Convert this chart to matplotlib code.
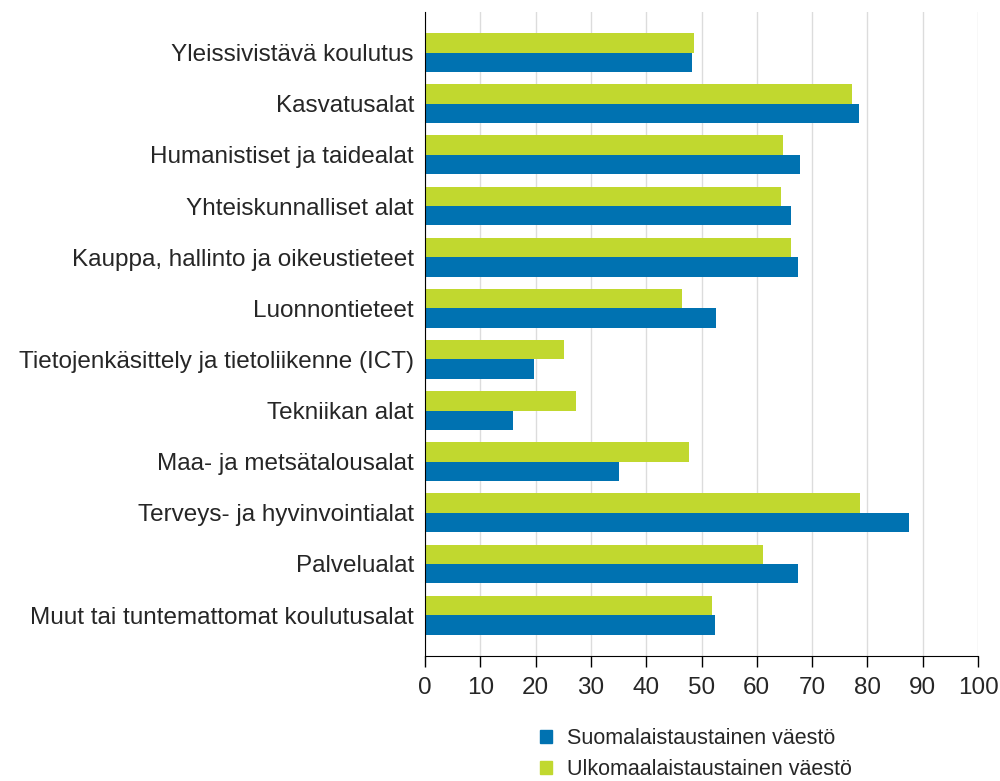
import numpy as np
import matplotlib.pyplot as plt
from matplotlib.patches import Patch

plt.rcParams['font.family'] = ['Liberation Sans', 'DejaVu Sans']

categories = ['Yleissivistävä koulutus', 'Kasvatusalat', 'Humanistiset ja taidealat',
              'Yhteiskunnalliset alat', 'Kauppa, hallinto ja oikeustieteet', 'Luonnontieteet',
              'Tietojenkäsittely ja tietoliikenne (ICT)', 'Tekniikan alat',
              'Maa- ja metsätalousalat', 'Terveys- ja hyvinvointialat', 'Palvelualat',
              'Muut tai tuntemattomat koulutusalat']
suomi = [48.2, 78.4, 67.9, 66.1, 67.4, 52.7, 19.8, 16.0, 35.0, 87.5, 67.5, 52.4]
ulko = [48.6, 77.3, 64.7, 64.4, 66.2, 46.4, 25.1, 27.3, 47.7, 78.7, 61.2, 51.9]
series_labels = ['Suomalaistaustainen väestö', 'Ulkomaalaistaustainen väestö']
xticks = list(range(0, 101, 10))

blue = '#0072b1'
green = '#c1d82f'
txt = '#262626'

fig = plt.figure(figsize=(10, 7.81), dpi=100)
ax = fig.add_axes([0.425, 0.16, 0.553, 0.825])

y = np.arange(len(categories))
h = 0.38
ax.barh(y - h / 2, ulko, height=h, color=green, zorder=3)
ax.barh(y + h / 2, suomi, height=h, color=blue, zorder=3)

ax.set_ylim(len(categories) - 1 + 0.8, -0.8)
ax.set_xlim(0, 100)
ax.set_xticks(xticks)
ax.set_yticks(y)
ax.set_yticklabels(categories, fontsize=17.5, color=txt)
ax.tick_params(axis='x', labelsize=17.5, labelcolor=txt, length=8, width=1,
               direction='out', pad=7)
ax.tick_params(axis='y', length=0, pad=8)
ax.grid(axis='x', color='#dcdcdc', linewidth=1, zorder=0)
for s in ['top', 'right']:
    ax.spines[s].set_visible(False)
ax.spines['left'].set_color('black')
ax.spines['bottom'].set_color('black')
ax.spines['left'].set_zorder(4)

handles = [Patch(color=blue), Patch(color=green)]
fig.legend(handles, series_labels, loc='lower left', bbox_to_anchor=(0.523, -0.021),
           frameon=False, fontsize=15.5, handlelength=0.56, handleheight=0.56,
           labelspacing=0.45, handletextpad=0.7, labelcolor=txt, borderpad=0.3)

fig.savefig('out.png', dpi=100)
